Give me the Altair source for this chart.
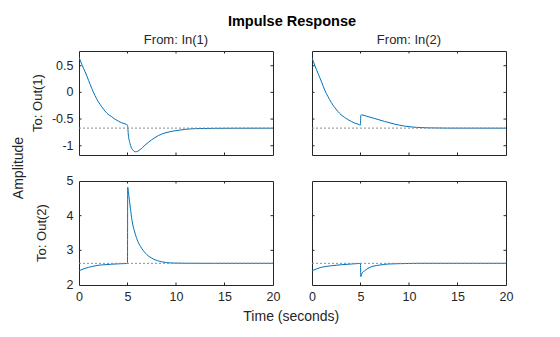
import altair as alt
import pandas as pd

# ---- data ----
T11 = [0, 0.3, 0.62, 1.0, 1.31, 1.65, 1.99, 2.35, 2.68, 3.0, 3.37, 3.7, 4.05, 4.4, 4.74, 5.0,
       5.09, 5.26, 5.5, 5.85, 6.29, 6.8, 7.49, 8.18, 8.87, 9.9, 10.86, 12, 14, 16, 20]
Y11 = [0.66, 0.52, 0.39, 0.22, 0.075, -0.06, -0.175, -0.27, -0.35, -0.41, -0.457, -0.50, -0.54, -0.57, -0.59, -0.613,
       -0.80, -0.957, -1.07, -1.114, -1.076, -0.99, -0.89, -0.81, -0.76, -0.72, -0.695, -0.68, -0.674, -0.672, -0.671]

T12 = [0, 0.3, 0.62, 1.0, 1.31, 1.65, 1.99, 2.35, 2.68, 3.0, 3.37, 3.7, 4.05, 4.4, 4.74, 5.0,
       5.03, 5.1, 5.6, 6.46, 7.49, 8.52, 9.55, 10.86, 12, 14, 20]
Y12 = [0.65, 0.50, 0.356, 0.19, 0.043, -0.08, -0.19, -0.285, -0.36, -0.42, -0.47, -0.51, -0.545, -0.575, -0.595, -0.613,
       -0.43, -0.42, -0.445, -0.49, -0.545, -0.595, -0.632, -0.657, -0.665, -0.67, -0.671]

T21 = [0, 0.62, 1.31, 1.99, 2.68, 3.37, 4.05, 4.9, 5.0, 5.02, 5.13, 5.3, 5.46, 5.74, 6.08, 6.46, 6.98, 7.67,
       8.52, 9.55, 10.86, 14, 20]
Y21 = [2.41, 2.48, 2.53, 2.57, 2.585, 2.60, 2.61, 2.62, 2.625, 4.82, 4.59, 4.21, 3.87, 3.53, 3.25, 3.06, 2.88, 2.75,
       2.67, 2.635, 2.627, 2.625, 2.625]

T22 = [0, 0.96, 1.99, 3.02, 4.05, 4.9, 5.0, 5.03, 5.15, 5.43, 5.77, 6.29, 6.98, 7.84, 8.87, 10.86, 20]
Y22 = [2.41, 2.51, 2.555, 2.585, 2.605, 2.622, 2.625, 2.24, 2.34, 2.41, 2.48, 2.54, 2.575, 2.605, 2.615, 2.625, 2.625]

STEADY = [-0.67, -0.67, 2.625, 2.625]
YDOM_TOP = [-1.174, 0.776]
YDOM_BOT = [2, 5]
YTICKS_TOP = [-1, -0.5, 0, 0.5]
YTICKS_BOT = [2, 3, 4, 5]
XTICKS = [0, 5, 10, 15, 20]
COL_TITLES = ["From: In(1)", "From: In(2)"]
ROW_TITLES = ["To: Out(1)", "To: Out(2)"]
TITLE = "Impulse Response"
XLABEL = "Time (seconds)"
YLABEL = "Amplitude"

W, H = 194, 104
FONT = "Liberation Sans"
DARK = "#262626"
BLUE = "#0072BD"
TICKFS = 12.5


def one(text):
    return pd.DataFrame({"s": [text]})


def panel(t, y, ss, ydom, yticks, show_x, show_y, extras):
    df = pd.DataFrame({"t": t, "v": y, "i": list(range(len(t)))})
    xaxis = alt.Axis(values=XTICKS, ticks=False, tickSize=0, domain=False, grid=False,
                     labelFont=FONT, labelFontSize=TICKFS, labelColor=DARK, labelPadding=5,
                     labelOverlap=False, labelFlush=False, labelBound=False,
                     labelExpr="toString(datum.value)", title=None) if show_x else None
    x = alt.X("t:Q", scale=alt.Scale(domain=[0, 20], nice=False, zero=False), axis=xaxis)
    yv = alt.Y("v:Q", scale=alt.Scale(domain=ydom, nice=False, zero=False), axis=None)

    line = alt.Chart(df).mark_line(color=BLUE, strokeWidth=1, interpolate="monotone", clip=True).encode(
        x=x, y=yv, order="i:Q")
    ssr = alt.Chart(pd.DataFrame({"v": [ss]})).mark_rule(
        color="#8c8c8c", strokeDash=[2, 2], strokeWidth=1).encode(y="v:Q")
    xt = pd.DataFrame({"t": XTICKS[1:-1]})
    yt = pd.DataFrame({"v": [v for v in yticks if ydom[0] < v < ydom[1]]})
    tk_style = dict(color=DARK, strokeWidth=1)
    layers = [
        line, ssr,
        alt.Chart(xt).mark_rule(**tk_style).encode(x="t:Q", y=alt.value(0), y2=alt.value(2.5)),
        alt.Chart(xt).mark_rule(**tk_style).encode(x="t:Q", y=alt.value(H), y2=alt.value(H - 2.5)),
        alt.Chart(yt).mark_rule(**tk_style).encode(y="v:Q", x=alt.value(0), x2=alt.value(2.5)),
        alt.Chart(yt).mark_rule(**tk_style).encode(y="v:Q", x=alt.value(W), x2=alt.value(W - 2.5)),
    ]
    if show_y:
        ylab = alt.Chart(pd.DataFrame({"v": yticks})).transform_calculate(
            lab="toString(datum.v)").mark_text(
            font=FONT, fontSize=TICKFS, color=DARK, align="right", baseline="middle").encode(
            y="v:Q", text="lab:N", x=alt.value(-5.5))
        layers.append(ylab)
    return alt.layer(*layers, *extras).properties(width=W, height=H)


def txt(text, x, y, size, weight="normal", angle=0, baseline="alphabetic", color=DARK):
    return alt.Chart(one(text)).mark_text(
        font=FONT, fontSize=size, fontWeight=weight, angle=angle, baseline=baseline,
        align="center", color=color).encode(text="s:N", x=alt.value(x), y=alt.value(y))


p11 = panel(T11, Y11, STEADY[0], YDOM_TOP, YTICKS_TOP, False, True, [
    txt(TITLE, 213, -25.3, 14.5, weight="bold", color="#000000"),
    txt(COL_TITLES[0], 97, -7.5, 13),
    txt(ROW_TITLES[0], -41, 52, 13, angle=270, baseline="middle"),
    txt(YLABEL, -60.5, 117, 14, angle=270, baseline="middle"),
])
p12 = panel(T12, Y12, STEADY[1], YDOM_TOP, YTICKS_TOP, False, False, [
    txt(COL_TITLES[1], 97, -7.5, 13),
])
p21 = panel(T21, Y21, STEADY[2], YDOM_BOT, YTICKS_BOT, True, True, [
    txt(ROW_TITLES[1], -37.5, 52, 13, angle=270, baseline="middle"),
    txt(XLABEL, 212.3, 139.5, 14),
])
p22 = panel(T22, Y22, STEADY[3], YDOM_BOT, YTICKS_BOT, True, False, [])

chart = alt.concat(p11, p12, p21, p22, columns=2, spacing={"row": 26, "column": 39}, bounds="flush").properties(
    autosize=alt.AutoSizeParams(type="none"),
    padding={"left": 79, "top": 51, "right": 481, "bottom": 286},
    background="white",
).configure_view(stroke=DARK, strokeWidth=1)

chart.save("out.html", embed_options={"renderer": "svg", "actions": False})
